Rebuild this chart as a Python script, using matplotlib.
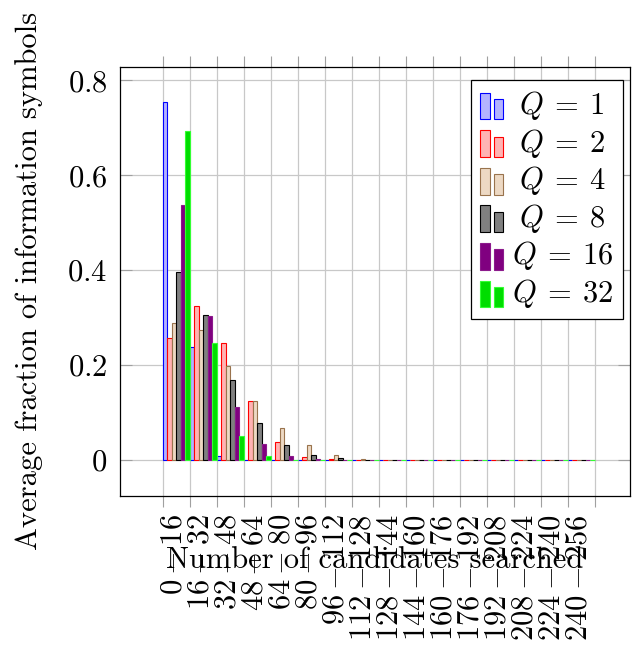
import numpy as np
import matplotlib
matplotlib.use('Agg')
import matplotlib.pyplot as plt
from matplotlib.patches import Rectangle
from matplotlib.legend_handler import HandlerBase
from matplotlib.container import BarContainer

plt.rcParams['font.family'] = 'serif'
plt.rcParams['font.serif'] = ['cmr10']
plt.rcParams['mathtext.fontset'] = 'cm'
plt.rcParams['axes.formatter.use_mathtext'] = True

# candidate bins (0-16, 16-32, ..., 240-256)
bins = [r'$%d-%d$' % (16 * i, 16 * (i + 1)) for i in range(16)]

q_labels = [r'$\;Q\:=\:1$', r'$\;Q\:=\:2$', r'$\;Q\:=\:4$', r'$\;Q\:=\:8$',
            r'$Q\:=\:16$', r'$Q\:=\:32$']

q1 = [0.754, 0.238, 0.009, 0.001, 0, 0, 0, 0, 0, 0, 0, 0, 0, 0, 0, 0]
q2 = [0.258, 0.324, 0.247, 0.124, 0.039, 0.007, 0.002, 0.0005, 0, 0, 0, 0, 0, 0, 0, 0]
q4 = [0.288, 0.274, 0.198, 0.124, 0.067, 0.031, 0.012, 0.0035, 0.001, 0.0005, 0.0003, 0.0002, 0.0002, 0.0001, 0.0001, 0.0001]
q8 = [0.396, 0.305, 0.168, 0.079, 0.032, 0.011, 0.004, 0.0012, 0.0005, 0.0003, 0.0002, 0.0001, 0.0001, 0.0001, 0.0001, 0]
q16 = [0.537, 0.304, 0.112, 0.035, 0.0085, 0.002, 0.001, 0.0003, 0.0001, 0, 0, 0, 0, 0, 0, 0]
q32 = [0.693, 0.247, 0.051, 0.008, 0.001, 0, 0, 0, 0, 0, 0, 0, 0, 0, 0, 0]
series = [q1, q2, q4, q8, q16, q32]

fills = ['#b3b3ff', '#ffb3b3', '#edd9c4', '#808080', '#800080', '#00dd00']
edges = ['#0000ff', '#ff0000', '#99734d', '#000000', '#8c1a8c', '#33ff33']


class TwoBars(HandlerBase):
    def create_artists(self, legend, orig_handle, xdescent, ydescent,
                       width, height, fontsize, trans):
        p = orig_handle.patches[0]
        w = width * 0.43
        x0 = -xdescent
        y0 = -ydescent - 0.25 * height
        r1 = Rectangle((x0, y0), w, height * 1.25, facecolor=p.get_facecolor(),
                       edgecolor=p.get_edgecolor(), lw=0.8, transform=trans)
        r2 = Rectangle((x0 + width - w, y0), w, height * 0.95, facecolor=p.get_facecolor(),
                       edgecolor=p.get_edgecolor(), lw=0.8, transform=trans)
        return [r1, r2]


fig = plt.figure(figsize=(6.35, 6.52), dpi=100)
ax = fig.add_axes([0.189, 0.2393, 0.803, 0.6579])

x = np.arange(16)
bw = 1 / 6
bars = []
for j, vals in enumerate(series):
    b = ax.bar(x + (j + 0.5) * bw, vals, width=bw, color=fills[j],
               edgecolor=edges[j], linewidth=0.8, zorder=3)
    bars.append(b)

ax.set_xlim(-1.59, 17.3)
ax.set_ylim(-0.0753, 0.828)

ax.set_xticks(np.arange(17))
ax.set_xticklabels([])
ax.set_xticks(x + 0.39, bins, minor=True, rotation=90, fontsize=22)
ax.tick_params(axis='x', which='major', direction='out', length=8, width=0.8,
               color='#a0a0a0', top=True, bottom=True)
ax.tick_params(axis='x', which='minor', length=0, pad=13)

ax.set_yticks([0, 0.2, 0.4, 0.6, 0.8])
ax.set_yticklabels(['$0$', '$0.2$', '$0.4$', '$0.6$', '$0.8$'], fontsize=22)
ax.tick_params(axis='y', direction='in', length=8.5, width=0.8, color='#a0a0a0',
               left=True, right=True, pad=9)

ax.grid(True, color='#c8c8c8', linewidth=0.9, zorder=0)
ax.set_axisbelow(True)
for s in ax.spines.values():
    s.set_linewidth(0.9)

ax.set_xlabel('Number of candidates searched', fontsize=22)
ax.xaxis.set_label_coords(0.5, -0.119)
ax.set_ylabel('Average fraction of information symbols', fontsize=22)
ax.yaxis.set_label_coords(-0.151, 0.501)

leg = ax.legend(bars, q_labels, handler_map={BarContainer: TwoBars()},
                loc='upper right', bbox_to_anchor=(0.986, 0.970), borderaxespad=0,
                fontsize=22, fancybox=False, framealpha=1, edgecolor='black',
                handlelength=0.75, handleheight=0.7, handletextpad=0.28,
                labelspacing=0.15, borderpad=0.3)
leg.get_frame().set_linewidth(0.9)
leg.set_zorder(5)

fig.savefig('out.png', dpi=100)
